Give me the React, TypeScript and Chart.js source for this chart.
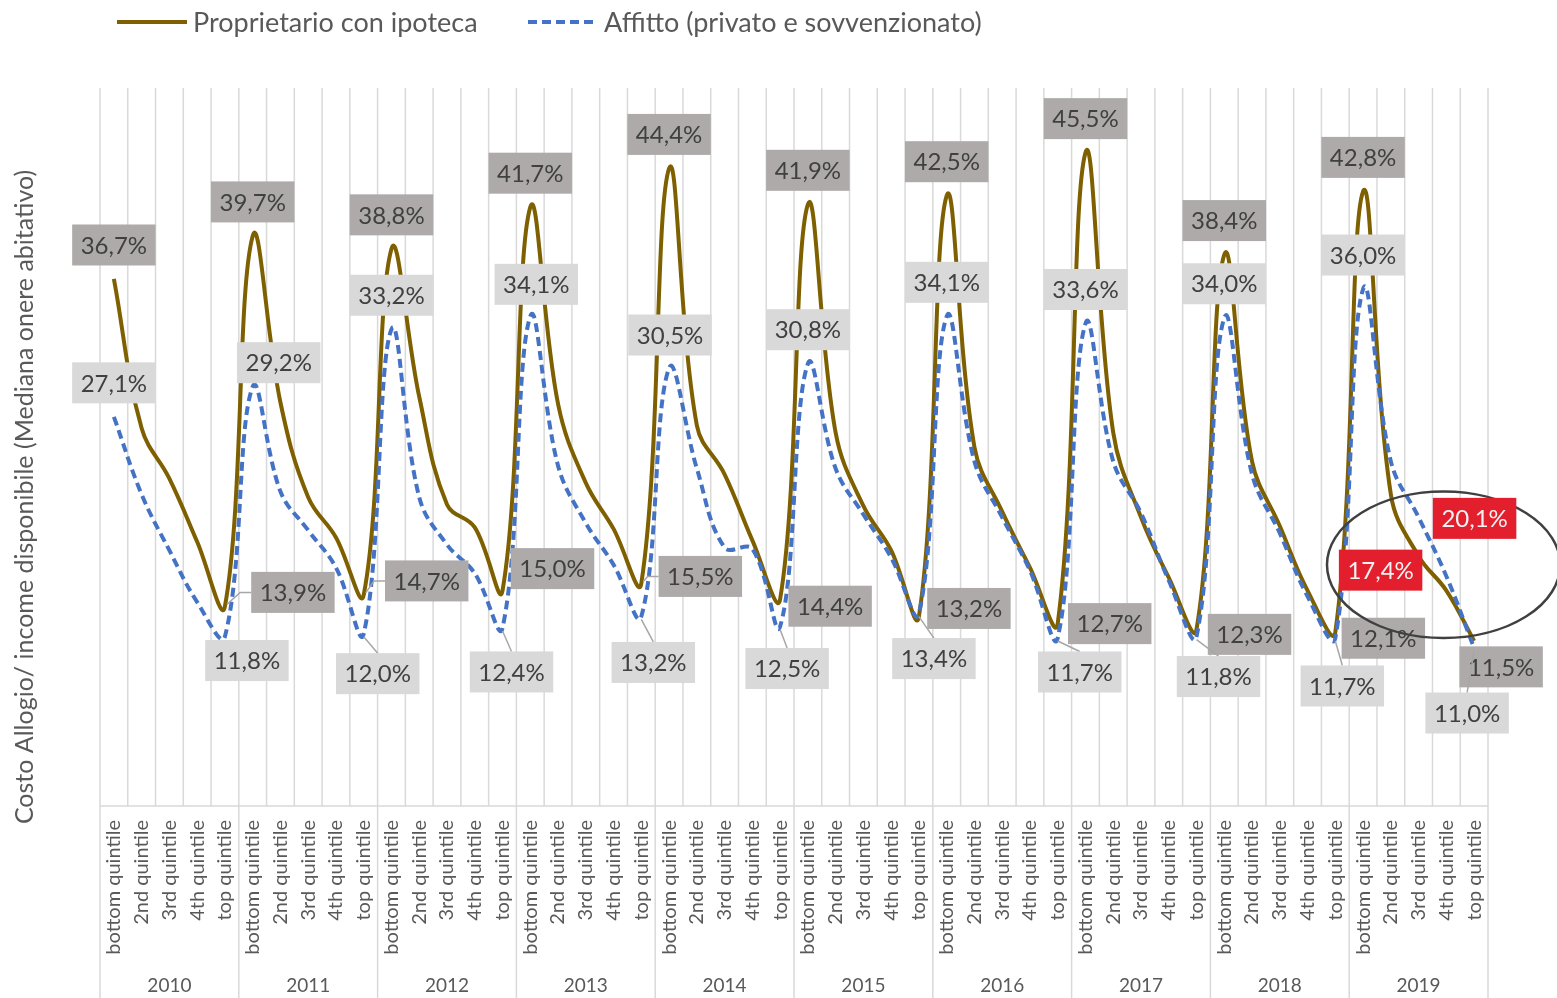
import React, { useEffect, useRef } from "react";
import { Chart, registerables } from "chart.js";

Chart.register(...registerables);

// ---------- DATA ----------
const years = ["2010", "2011", "2012", "2013", "2014", "2015", "2016", "2017", "2018", "2019"];
const quintiles = ["bottom quintile", "2nd quintile", "3rd quintile", "4th quintile", "top quintile"];
const categories = years.flatMap((y) => quintiles.map((q) => `${q} ${y}`));

// Proprietario con ipoteca (%)
const ownerMortgage = [
  36.7, 26.3, 22.8, 18.4, 13.9,
  39.7, 28.1, 21.5, 18.7, 14.7,
  38.8, 28.5, 21.0, 19.4, 15.0,
  41.7, 28.0, 22.5, 19.3, 15.5,
  44.4, 26.5, 23.1, 18.5, 14.4,
  41.9, 26.0, 20.9, 17.8, 13.2,
  42.5, 25.0, 20.5, 16.6, 12.7,
  45.5, 26.0, 20.1, 15.9, 12.3,
  38.4, 24.0, 19.5, 15.0, 12.1,
  42.8, 21.7, 17.4, 15.0, 11.5,
];

// Affitto (privato e sovvenzionato) (%)
const rentTotal = [
  27.1, 21.7, 17.8, 14.2, 11.8,
  29.2, 21.9, 19.2, 16.6, 12.0,
  33.2, 21.5, 18.2, 16.2, 12.4,
  34.1, 23.7, 19.7, 16.8, 13.2,
  30.5, 23.5, 18.0, 17.9, 12.5,
  30.8, 23.5, 20.3, 17.3, 13.4,
  34.1, 24.0, 20.1, 16.4, 11.7,
  33.6, 24.0, 20.4, 15.7, 11.8,
  34.0, 23.1, 19.0, 14.6, 11.7,
  36.0, 24.0, 20.1, 16.0, 11.0,
];

const seriesNames = ["Proprietario con ipoteca", "Affitto (privato e sovvenzionato)"];
const yAxisTitle = "Costo Allogio/ income disponibile (Mediana onere abitativo)";

// highlighted points (category index) shown with red labels
const highlightIndex = 47;

// ---------- LABEL PLACEMENT (pixel offsets from the point, per year) ----------
const ownerHighShift = [[0, -34], [0, -34], [0, -34], [0, -34], [0, -34], [0, -34], [0, -34], [0, -34], [0, -34], [0, -34]];
const rentHighShift = [[0, -34], [26, -24], [0, -34], [6, -32], [1, -33], [0, -34], [0, -34], [0, -34], [0, -34], [0, -34]];
const ownerLowShift = [[68, -14], [63, -14], [50, -22], [59, -7], [50, 7], [50, -8], [52, 0], [53, 5], [48, 6], [27, 26]];
const rentLowShift = [[22, 24], [14, 40], [9, 44], [12, 46], [7, 42], [15, 45], [22, 34], [22, 40], [7, 48], [-7, 65]];
const ownerRedShift = [-38, 14];
const rentRedShift = [56, 1];

// ---------- STYLE ----------
const W = 1557;
const H = 998;
const FONT = "Lato, 'Noto Sans', sans-serif";
const BROWN = "#7f6000";
const BLUE = "#4472c4";
const DARK_BOX = "#aeaaaa";
const LIGHT_BOX = "#d9d9d9";
const RED_BOX = "#e31e2d";
const GRID = "#d9d9d9";
const TEXT = "#595959";
const LABEL_TEXT = "#404040";
const LABEL_FONT = `24px ${FONT}`;

const fmt = (v: number) => v.toFixed(1).replace(".", ",") + "%";

type Box = { left: number; right: number; top: number; bottom: number; cx: number; cy: number };

function boxRect(ctx: CanvasRenderingContext2D, cx: number, cy: number, text: string): Box {
  ctx.font = LABEL_FONT;
  const w = ctx.measureText(text).width + 17;
  const h = 41;
  return { left: cx - w / 2, right: cx + w / 2, top: cy - h / 2, bottom: cy + h / 2, cx, cy };
}

function drawBox(ctx: CanvasRenderingContext2D, cx: number, cy: number, text: string, bg: string, fg: string): Box {
  const b = boxRect(ctx, cx, cy, text);
  ctx.fillStyle = bg;
  ctx.fillRect(b.left, b.top, b.right - b.left, b.bottom - b.top);
  ctx.fillStyle = fg;
  ctx.font = LABEL_FONT;
  ctx.textAlign = "center";
  ctx.textBaseline = "middle";
  ctx.fillText(text, cx, cy + 1);
  return b;
}

const decorPlugin = {
  id: "decor",
  beforeDatasetsDraw(chart: any) {
    const { ctx, chartArea, scales } = chart;
    const x = scales.x;
    const step = x.getPixelForValue(1) - x.getPixelForValue(0);
    ctx.save();
    ctx.strokeStyle = GRID;
    ctx.lineWidth = 1.5;
    // vertical gridlines at category boundaries
    for (let k = 0; k <= categories.length; k++) {
      const px = x.getPixelForValue(0) - step / 2 + k * step;
      ctx.beginPath();
      ctx.moveTo(px, chartArea.top);
      ctx.lineTo(px, chartArea.bottom);
      ctx.stroke();
    }
    // axis line
    ctx.beginPath();
    ctx.moveTo(chartArea.left, chartArea.bottom);
    ctx.lineTo(chartArea.right, chartArea.bottom);
    ctx.stroke();
    // year separators below axis
    for (let k = 0; k <= years.length; k++) {
      const px = x.getPixelForValue(0) - step / 2 + k * quintiles.length * step;
      ctx.beginPath();
      ctx.moveTo(px, chartArea.bottom);
      ctx.lineTo(px, H);
      ctx.stroke();
    }
    // quintile labels (rotated)
    ctx.fillStyle = TEXT;
    ctx.font = `20px ${FONT}`;
    ctx.textAlign = "right";
    ctx.textBaseline = "middle";
    categories.forEach((_, i) => {
      const px = x.getPixelForValue(i);
      ctx.save();
      ctx.translate(px, chartArea.bottom + 14);
      ctx.rotate(-Math.PI / 2);
      ctx.fillText(quintiles[i % quintiles.length], 0, 0);
      ctx.restore();
    });
    // year labels
    ctx.font = `19px ${FONT}`;
    ctx.textAlign = "center";
    years.forEach((yr, k) => {
      const px = (x.getPixelForValue(k * 5) + x.getPixelForValue(k * 5 + 4)) / 2;
      ctx.fillText(yr, px, 986);
    });
    // y axis title
    ctx.save();
    ctx.translate(25, 497);
    ctx.rotate(-Math.PI / 2);
    ctx.font = `25px ${FONT}`;
    ctx.fillText(yAxisTitle, 0, 0);
    ctx.restore();
    // legend
    ctx.lineWidth = 4;
    ctx.strokeStyle = BROWN;
    ctx.beginPath();
    ctx.moveTo(117, 22);
    ctx.lineTo(187, 22);
    ctx.stroke();
    ctx.strokeStyle = BLUE;
    ctx.setLineDash([9, 5]);
    ctx.beginPath();
    ctx.moveTo(528, 22);
    ctx.lineTo(598, 22);
    ctx.stroke();
    ctx.setLineDash([]);
    ctx.font = `27px ${FONT}`;
    ctx.textAlign = "left";
    ctx.fillStyle = TEXT;
    ctx.fillText(seriesNames[0], 193, 23);
    ctx.fillText(seriesNames[1], 604, 23);
    ctx.restore();
  },
  afterDatasetsDraw(chart: any) {
    const { ctx, scales } = chart;
    const x = scales.x;
    const y = scales.y;
    const step = x.getPixelForValue(1) - x.getPixelForValue(0);
    ctx.save();
    ctx.strokeStyle = "#a6a6a6";
    ctx.lineWidth = 1.5;
    years.forEach((_, k) => {
      const hi = k * 5;
      const lo = k * 5 + 4;
      // owner high
      let px = x.getPixelForValue(hi);
      let py = y.getPixelForValue(ownerMortgage[hi]);
      drawBox(ctx, px + ownerHighShift[k][0], py + ownerHighShift[k][1], fmt(ownerMortgage[hi]), DARK_BOX, LABEL_TEXT);
      // rent high
      py = y.getPixelForValue(rentTotal[hi]);
      drawBox(ctx, px + rentHighShift[k][0], py + rentHighShift[k][1], fmt(rentTotal[hi]), LIGHT_BOX, LABEL_TEXT);
      // owner low (right)
      px = x.getPixelForValue(lo);
      py = y.getPixelForValue(ownerMortgage[lo]);
      let b = boxRect(ctx, px + ownerLowShift[k][0], py + ownerLowShift[k][1], fmt(ownerMortgage[lo]));
      if (b.left - px > 15) {
        ctx.beginPath();
        ctx.moveTo(px + 2, py - 2);
        ctx.lineTo(b.left - 11, b.cy);
        ctx.lineTo(b.left, b.cy);
        ctx.stroke();
      }
      drawBox(ctx, b.cx, b.cy, fmt(ownerMortgage[lo]), DARK_BOX, LABEL_TEXT);
      // rent low (below)
      py = y.getPixelForValue(rentTotal[lo]);
      b = boxRect(ctx, px + rentLowShift[k][0], py + rentLowShift[k][1], fmt(rentTotal[lo]));
      if (b.top - py > 12) {
        ctx.beginPath();
        ctx.moveTo(px, py + 3);
        ctx.lineTo(b.cx, b.top);
        ctx.stroke();
      }
      drawBox(ctx, b.cx, b.cy, fmt(rentTotal[lo]), LIGHT_BOX, LABEL_TEXT);
    });
    // ellipse annotation around 2019 middle quintiles
    const ex = x.getPixelForValue(highlightIndex) + 0.9 * step;
    const ey = y.getPixelForValue(16.8);
    const rx = 4.2 * step;
    const ry = y.getPixelForValue(0) - y.getPixelForValue(5.1);
    ctx.strokeStyle = "#404040";
    ctx.lineWidth = 2.5;
    ctx.beginPath();
    ctx.ellipse(ex, ey, rx, ry, 0, 0, Math.PI * 2);
    ctx.stroke();
    // red highlighted labels
    const hx = x.getPixelForValue(highlightIndex);
    drawBox(ctx, hx + ownerRedShift[0], y.getPixelForValue(ownerMortgage[highlightIndex]) + ownerRedShift[1], fmt(ownerMortgage[highlightIndex]), RED_BOX, "#f2f2f2");
    drawBox(ctx, hx + rentRedShift[0], y.getPixelForValue(rentTotal[highlightIndex]) + rentRedShift[1], fmt(rentTotal[highlightIndex]), RED_BOX, "#f2f2f2");
    ctx.restore();
  },
};

export default function App() {
  const ref = useRef<HTMLCanvasElement | null>(null);
  useEffect(() => {
    if (!ref.current) return;
    const chart = new Chart(ref.current, {
      type: "line",
      data: {
        labels: categories,
        datasets: [
          {
            label: seriesNames[0],
            data: ownerMortgage,
            borderColor: BROWN,
            backgroundColor: BROWN,
            borderWidth: 4,
            tension: 0.4,
            pointRadius: 0,
            fill: false,
            order: 1,
          },
          {
            label: seriesNames[1],
            data: rentTotal,
            borderColor: BLUE,
            backgroundColor: BLUE,
            borderWidth: 4,
            borderDash: [9, 5],
            tension: 0.4,
            pointRadius: 0,
            fill: false,
            order: 0,
          },
        ],
      },
      options: {
        animation: false,
        responsive: false,
        maintainAspectRatio: false,
        devicePixelRatio: 1,
        layout: { padding: { left: 100, right: W - 1488, top: 88, bottom: H - 806 } },
        scales: {
          x: { display: false, offset: true },
          y: { display: false, min: 0, max: 50 },
        },
        plugins: { legend: { display: false }, tooltip: { enabled: false } },
      },
      plugins: [decorPlugin],
    });
    return () => chart.destroy();
  }, []);
  return (
    <div style={{ position: "fixed", left: 0, top: 0, width: W, height: H, background: "#fff" }}>
      <canvas ref={ref} width={W} height={H} style={{ width: W, height: H, display: "block" }} />
    </div>
  );
}
